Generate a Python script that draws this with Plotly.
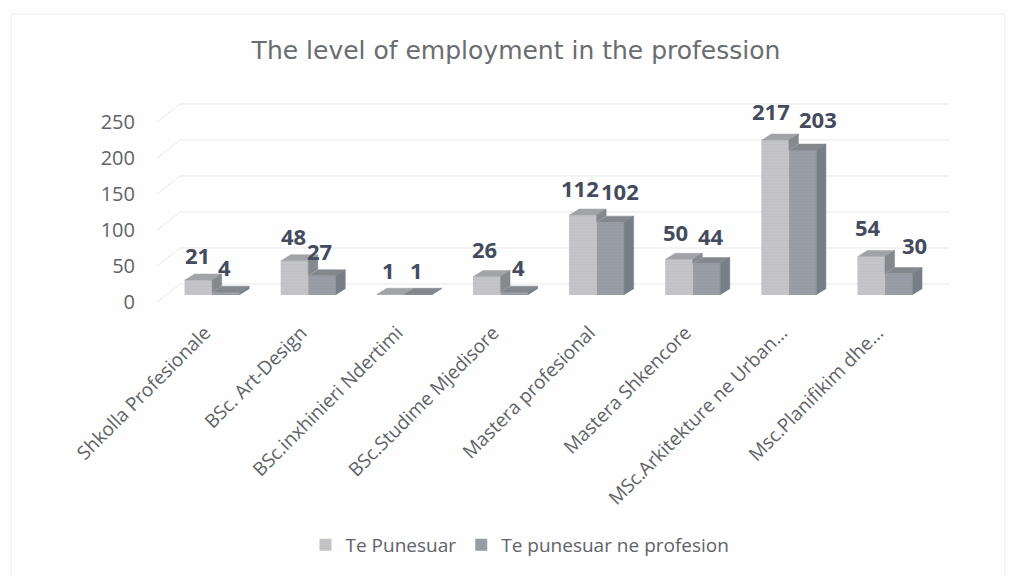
import plotly.graph_objects as go

categories = ["Shkolla Profesionale", "BSc. Art-Design", "BSc.inxhinieri Ndertimi", "BSc.Studime Mjedisore",
              "Mastera profesional", "Mastera Shkencore", "MSc.Arkitekture ne Urban...", "Msc.Planifikim dhe..."]
te_punesuar = [21, 48, 1, 26, 112, 50, 217, 54]
te_punesuar_ne_profesion = [4, 27, 1, 4, 102, 44, 203, 30]
y_ticks = [0, 50, 100, 150, 200, 250]
series_names = ["Te Punesuar", "Te punesuar ne profesion"]

# page geometry
W, H = 1011, 577
BAR_W = 0.286          # bar width in category units
DX, DY = 0.1, 8.4      # 3-D depth of a bar, in axis units
label_dx1 = [-1, -1, -2, -2, -3, -3, -4, -3]   # hand-placed label offsets (px)
label_dx2 = [-1, -2, -2, 4, 10, 5, 15, 16]
label_dy1 = [0, 0, 1, -2, -2, -2, -4, -4]
label_dy2 = [0, 0, 1, 0, -6, -3, -6, -4]

C1_FRONT, C1_TOP, C1_SIDE = "#c6c6ca", "#a2a3a7", "#85888d"
C2_FRONT, C2_TOP, C2_SIDE = "#9a9ea6", "#84878c", "#787e86"
GRID = "#e9e9e9"
TXT = "#5f6368"
LBL = "#444b5c"

def px_x(p): return p / W
def px_y(p): return 1 - p / H

fig = go.Figure()

# background wall: each gridline runs along the floor diagonal, then across the back
WALL_L, WALL_R, FLOOR = -0.5, 7.5, 25
for t in y_ticks:
    fig.add_trace(go.Scatter(x=[WALL_L - 0.24, WALL_L, WALL_R], y=[t - FLOOR, t, t], mode="lines", cliponaxis=False,
                             line=dict(color=GRID, width=1), hoverinfo="skip", showlegend=False,
                             xaxis="x", yaxis="y"))

xs = list(range(len(categories)))
fig.add_trace(go.Bar(x=xs, y=te_punesuar, name=series_names[0],
                     marker=dict(color=C1_FRONT, line=dict(width=0),
                                 pattern=dict(shape="-", fgcolor="#b4b4b8", size=3, solidity=0.35)),
                     xaxis="x2", yaxis="y2", offsetgroup="a"))
fig.add_trace(go.Bar(x=xs, y=te_punesuar_ne_profesion, name=series_names[1],
                     marker=dict(color=C2_FRONT, line=dict(width=0),
                                 pattern=dict(shape="-", fgcolor="#8c9098", size=3, solidity=0.35)),
                     xaxis="x2", yaxis="y2", offsetgroup="b"))

def poly(px, py, color):
    fig.add_trace(go.Scatter(x=px, y=py, mode="lines", fill="toself", fillcolor=color, cliponaxis=False,
                             line=dict(color=color, width=0.5), hoverinfo="skip", showlegend=False,
                             xaxis="x2", yaxis="y2"))

for i, (v1, v2) in enumerate(zip(te_punesuar, te_punesuar_ne_profesion)):
    l, m, r = i - BAR_W, i, i + BAR_W
    # series 1 top and the part of its side that series 2 leaves visible
    poly([l, m, m + DX, l + DX], [v1, v1, v1 + DY, v1 + DY], C1_TOP)
    poly([m, m, m + DX, m + DX], [v2, v1, v1 + DY, v2 + DY], C1_SIDE)
    # series 2 top and side
    poly([m, r, r + DX, m + DX], [v2, v2, v2 + DY, v2 + DY], C2_TOP)
    poly([r, r, r + DX, r + DX], [0, v2, v2 + DY, DY], C2_SIDE)

annotations = []
for i, (v1, v2) in enumerate(zip(te_punesuar, te_punesuar_ne_profesion)):
    for v, off, sx, sy in ((v1, -BAR_W / 2, label_dx1[i], label_dy1[i]), (v2, BAR_W / 2, label_dx2[i], label_dy2[i])):
        annotations.append(dict(x=i + off, y=v, xref="x2", yref="y2", text=str(v), showarrow=False,
                                xshift=sx, yshift=6 + 19 - sy, yanchor="middle",
                                font=dict(family="Open Sans", size=22, color=LBL, weight="bold")))

fig.update_layout(
    width=W, height=H, margin=dict(l=0, r=0, t=0, b=0, autoexpand=False),
    paper_bgcolor="#fefefe", plot_bgcolor="rgba(0,0,0,0)",
    barmode="group", bargap=1 - 2 * BAR_W, bargroupgap=0,
    title=dict(text="The level of employment in the profession", x=516 / W, xanchor="center",
               y=px_y(50), yanchor="middle", font=dict(family="DejaVu Sans", size=25, color="#6a6d70")),
    xaxis=dict(domain=[px_x(157), px_x(949)], range=[WALL_L - 0.24, WALL_R], showgrid=False, zeroline=False,
               showticklabels=False, ticks="", anchor="y", automargin=False),
    yaxis=dict(domain=[px_y(302), px_y(96.8)], range=[-FLOOR, 260], tickvals=y_ticks, showgrid=False,
               zeroline=False, anchor="x", ticklabelstandoff=21, ticklabelshift=18, automargin=False,
               tickfont=dict(family="Open Sans", size=20, color=TXT)),
    xaxis2=dict(domain=[px_x(164), px_x(933)], range=[-0.5, 7.5], tickvals=xs, ticktext=categories, tickangle=-45,
                showgrid=False, zeroline=False, ticks="", anchor="y2", ticklabelstandoff=22, ticklabelshift=-7,
                automargin=False, tickfont=dict(family="Open Sans", size=19, color=TXT)),
    yaxis2=dict(domain=[px_y(295), px_y(116.5)], range=[0, 250], showgrid=False, zeroline=False,
                showticklabels=False, ticks="", anchor="x2", automargin=False),
    legend=dict(orientation="h", x=520 / W, xanchor="center", y=px_y(545), yanchor="middle",
                font=dict(family="Open Sans", size=19, color=TXT), bgcolor="rgba(0,0,0,0)"),
    annotations=annotations,
    shapes=[dict(type="rect", xref="paper", yref="paper", x0=px_x(11), x1=px_x(1005), y0=-0.05, y1=px_y(14),
                 line=dict(color="#efefef", width=1), layer="below")],
)

fig.write_html("out.html", config=dict(displayModeBar=False), post_script="document.body.style.margin='0';")
